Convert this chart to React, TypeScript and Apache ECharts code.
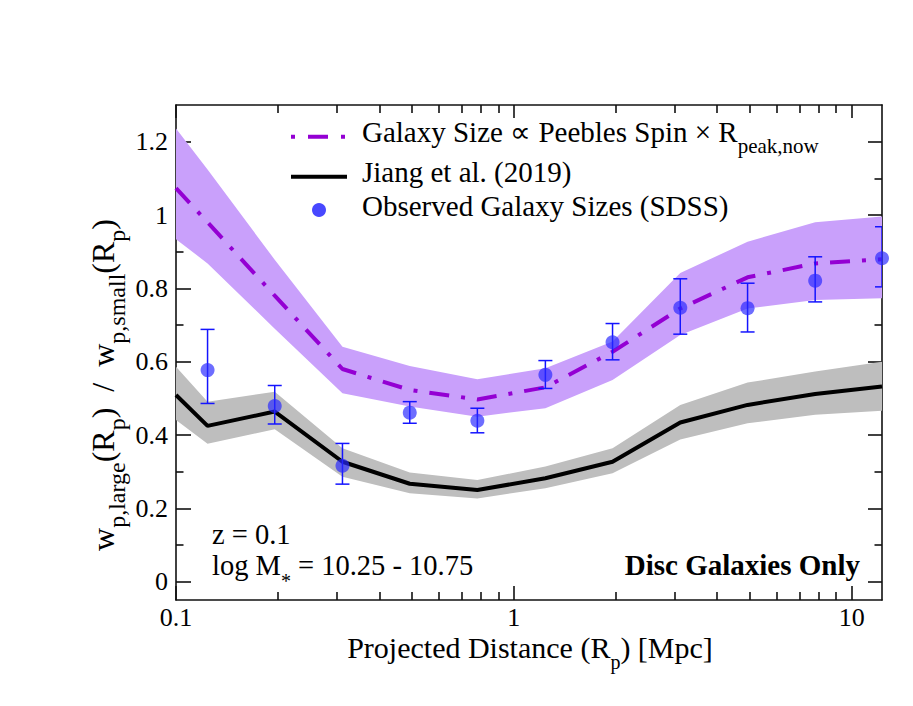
import React, { useEffect, useRef } from "react";
import * as echarts from "echarts";

// ---- data ----
const modelX = [0.1, 0.124, 0.196, 0.311, 0.492, 0.78, 1.24, 1.96, 3.11, 4.92, 7.8, 12.3];
const purpleLine = [1.073, 0.98, 0.78, 0.58, 0.523, 0.497, 0.53, 0.627, 0.745, 0.83, 0.868, 0.879];
const purpleHi = [1.236, 1.124, 0.878, 0.641, 0.588, 0.552, 0.582, 0.655, 0.842, 0.927, 0.98, 0.996];
const purpleLo = [0.934, 0.868, 0.69, 0.514, 0.478, 0.45, 0.473, 0.55, 0.673, 0.745, 0.768, 0.773];
const blackLine = [0.509, 0.425, 0.464, 0.327, 0.267, 0.25, 0.282, 0.327, 0.434, 0.482, 0.512, 0.532];
const grayHi = [0.586, 0.491, 0.518, 0.364, 0.298, 0.277, 0.314, 0.364, 0.482, 0.543, 0.573, 0.6];
const grayLo = [0.441, 0.376, 0.416, 0.286, 0.241, 0.227, 0.255, 0.296, 0.388, 0.432, 0.455, 0.466];

const obsX = [0.124, 0.196, 0.311, 0.492, 0.78, 1.24, 1.96, 3.11, 4.92, 7.8, 12.3];
const obsY = [0.577, 0.479, 0.316, 0.461, 0.439, 0.564, 0.653, 0.747, 0.746, 0.821, 0.882];
const obsHi = [0.688, 0.535, 0.377, 0.491, 0.473, 0.603, 0.704, 0.826, 0.814, 0.886, 0.968];
const obsLo = [0.486, 0.43, 0.266, 0.432, 0.406, 0.527, 0.605, 0.675, 0.681, 0.763, 0.804];

const xMajorTicks = [0.1, 1, 10];
const xMinorTicks = [0.2, 0.3, 0.4, 0.5, 0.6, 0.7, 0.8, 0.9, 2, 3, 4, 5, 6, 7, 8, 9];
const yMajorTicks = [0, 0.2, 0.4, 0.6, 0.8, 1, 1.2];
const yMinorTicks = [0.1, 0.3, 0.5, 0.7, 0.9, 1.1];

const legendLabels = [
  "{m|Galaxy Size ∝ Peebles Spin × R}{s|peak,now}",
  "{m|Jiang et al. (2019)}",
  "{m|Observed Galaxy Sizes (SDSS)}",
];

const FONT = "'Liberation Serif', 'Times New Roman', Times, serif";
const PURPLE = "#9400d3";
const BAND_PURPLE = "#c9a0fb";
const GRAY = "#bebebe";
const BLUE = "rgba(40,40,255,0.85)";
const AXIS = { color: "#111", width: 1.6 };

function zip(xs: number[], ys: number[]) {
  return xs.map((x, i) => [x, ys[i]]);
}
function fmt(v: number) {
  return String(Math.round(v * 1000) / 1000);
}

function xAxisDef(pos: string, ticks: number[], len: number, labels: boolean, line: boolean) {
  return {
    type: "log",
    logBase: 10,
    min: 0.1,
    max: 12.3,
    position: pos,
    axisLine: { show: line, onZero: false, lineStyle: AXIS },
    axisTick: { show: true, inside: true, length: len, customValues: ticks, lineStyle: AXIS },
    axisLabel: labels
      ? { show: true, customValues: ticks, margin: 7, lineHeight: 20, fontSize: 26, fontFamily: FONT, color: "#000", formatter: (v: number) => fmt(v) }
      : { show: false },
    splitLine: { show: false },
    minorTick: { show: false },
  };
}
function yAxisDef(pos: string, ticks: number[], len: number, labels: boolean, line: boolean) {
  return {
    type: "value",
    min: -0.05,
    max: 1.3,
    position: pos,
    axisLine: { show: line, onZero: false, lineStyle: AXIS },
    axisTick: { show: true, inside: true, length: len, customValues: ticks, lineStyle: AXIS },
    axisLabel: labels
      ? { show: true, customValues: ticks, margin: 8, fontSize: 26, fontFamily: FONT, color: "#000", formatter: (v: number) => fmt(v) }
      : { show: false },
    splitLine: { show: false },
    minorTick: { show: false },
  };
}

// rich text with subscripts: main tokens 'm' (size M), sub tokens 's' (size S),
// sub baseline d px below main baseline
function richStyle(M: number, S: number, d: number) {
  const L = Math.max(M, d + 0.1625 * S + 0.8375 * M);
  return {
    L,
    rich: {
      m: { fontSize: M, fontFamily: FONT, color: "#000", lineHeight: L, verticalAlign: "top" },
      s: { fontSize: S, fontFamily: FONT, color: "#000", lineHeight: S, verticalAlign: "bottom" },
    },
  };
}
function richText(x: number, baseline: number, text: string, M: number, S: number, d: number, align: string) {
  const { L, rich } = richStyle(M, S, d);
  return {
    type: "text",
    z: 100,
    x,
    y: baseline + L / 2 - 0.8375 * M,
    style: { text, rich, align, verticalAlign: "middle" },
  };
}

function bandSeries(lo: number[], hi: number[], color: string) {
  return {
    type: "custom",
    z: 1,
    clip: true,
    silent: true,
    data: modelX.map((x, i) => [x, lo[i], hi[i]]),
    encode: { x: 0, y: [1, 2] },
    renderItem: (params: any, api: any) => {
      if (params.dataIndexInside !== 0) return null;
      const n = params.dataInsideLength;
      const top: number[][] = [];
      const bot: number[][] = [];
      for (let i = 0; i < n; i++) {
        const x = api.value(0, i);
        top.push(api.coord([x, api.value(2, i)]));
        bot.push(api.coord([x, api.value(1, i)]));
      }
      return { type: "polygon", shape: { points: top.concat(bot.reverse()) }, style: { fill: color } };
    },
  };
}

export default function App() {
  const ref = useRef<HTMLDivElement>(null);
  useEffect(() => {
    const chart = echarts.init(ref.current!, null, { renderer: "svg" });

    const yt = richStyle(32, 24, 11);
    const yTitle = {
      type: "text",
      z: 100,
      x: 114 + yt.L / 2 - 0.8375 * 32,
      y: 385,
      rotation: Math.PI / 2,
      style: {
        text: "{m|w}{s|p,large}{m|(R}{s|p}{m|)  /  w}{s|p,small}{m|(R}{s|p}{m|)}",
        rich: yt.rich,
        align: "center",
        verticalAlign: "middle",
      },
    };

    const option: any = {
      animation: false,
      backgroundColor: "#fff",
      grid: { left: 176, right: 31, top: 105, bottom: 106, containLabel: false, outerBoundsMode: "none" },
      xAxis: [
        xAxisDef("bottom", xMajorTicks, 14, true, true),
        xAxisDef("bottom", xMinorTicks, 8, false, false),
        xAxisDef("top", xMajorTicks, 13, false, true),
        xAxisDef("top", xMinorTicks, 8, false, false),
      ],
      yAxis: [
        yAxisDef("left", yMajorTicks, 15, true, true),
        yAxisDef("left", yMinorTicks, 7.5, false, false),
        yAxisDef("right", yMajorTicks, 14, false, true),
        yAxisDef("right", yMinorTicks, 7.5, false, false),
      ],
      series: [
        bandSeries(grayLo, grayHi, GRAY),
        bandSeries(purpleLo, purpleHi, BAND_PURPLE),
        {
          type: "line", z: 3, data: zip(modelX, blackLine), symbol: "none", silent: true,
          lineStyle: { color: "#000", width: 4 },
        },
        {
          type: "line", z: 3, data: zip(modelX, purpleLine), symbol: "none", silent: true,
          lineStyle: { color: PURPLE, width: 4, type: [20, 12, 4, 12], cap: "butt" },
        },
        {
          type: "custom",
          z: 4,
          clip: true,
          silent: true,
          data: obsX.map((x, i) => [x, obsY[i], obsLo[i], obsHi[i]]),
          encode: { x: 0, y: [1, 2, 3] },
          renderItem: (params: any, api: any) => {
            const x = api.value(0);
            const lo = api.coord([x, api.value(2)]);
            const hi = api.coord([x, api.value(3)]);
            const w = 7;
            const st = { stroke: "#1414ff", lineWidth: 1.5 };
            return {
              type: "group",
              children: [
                { type: "line", shape: { x1: lo[0], y1: lo[1], x2: hi[0], y2: hi[1] }, style: st },
                { type: "line", shape: { x1: lo[0] - w, y1: lo[1], x2: lo[0] + w, y2: lo[1] }, style: st },
                { type: "line", shape: { x1: hi[0] - w, y1: hi[1], x2: hi[0] + w, y2: hi[1] }, style: st },
              ],
            };
          },
        },
        {
          type: "scatter", z: 5, data: zip(obsX, obsY), symbol: "circle", symbolSize: 14, clip: false, silent: true,
          itemStyle: { color: BLUE },
        },
      ],
      graphic: [
        // legend
        { type: "line", z: 100, shape: { x1: 291, y1: 136.7, x2: 347, y2: 136.7 }, style: { stroke: PURPLE, lineWidth: 4, lineDash: [4, 13, 20, 13], lineCap: "butt" } },
        { type: "line", z: 100, shape: { x1: 291, y1: 176.7, x2: 347, y2: 176.7 }, style: { stroke: "#000", lineWidth: 4 } },
        { type: "circle", z: 100, shape: { cx: 319, cy: 210, r: 7 }, style: { fill: BLUE } },
        richText(362, 141.7, legendLabels[0], 29, 21, 11.7, "left"),
        richText(362, 181.7, legendLabels[1], 29, 21, 11.7, "left"),
        richText(362, 216, legendLabels[2], 29, 21, 11.7, "left"),
        // annotations
        richText(212, 544, "{m|z = 0.1}", 28.5, 20, 12.7, "left"),
        richText(212, 575, "{m|log M}{s|*}{m| = 10.25 - 10.75}", 28.5, 20, 12.7, "left"),
        { type: "text", z: 100, x: 860, y: 565.2, style: { text: "Disc Galaxies Only", font: `bold 29px ${FONT}`, fill: "#000", align: "right", verticalAlign: "middle" } },
        // axis titles
        richText(530, 658, "{m|Projected Distance (R}{s|p}{m|) [Mpc]}", 30, 20, 11, "center"),
        yTitle,
      ],
    };
    chart.setOption(option);
    return () => chart.dispose();
  }, []);
  return <div ref={ref} style={{ position: "absolute", left: 0, top: 0, width: 913, height: 706, background: "#fff" }} />;
}
